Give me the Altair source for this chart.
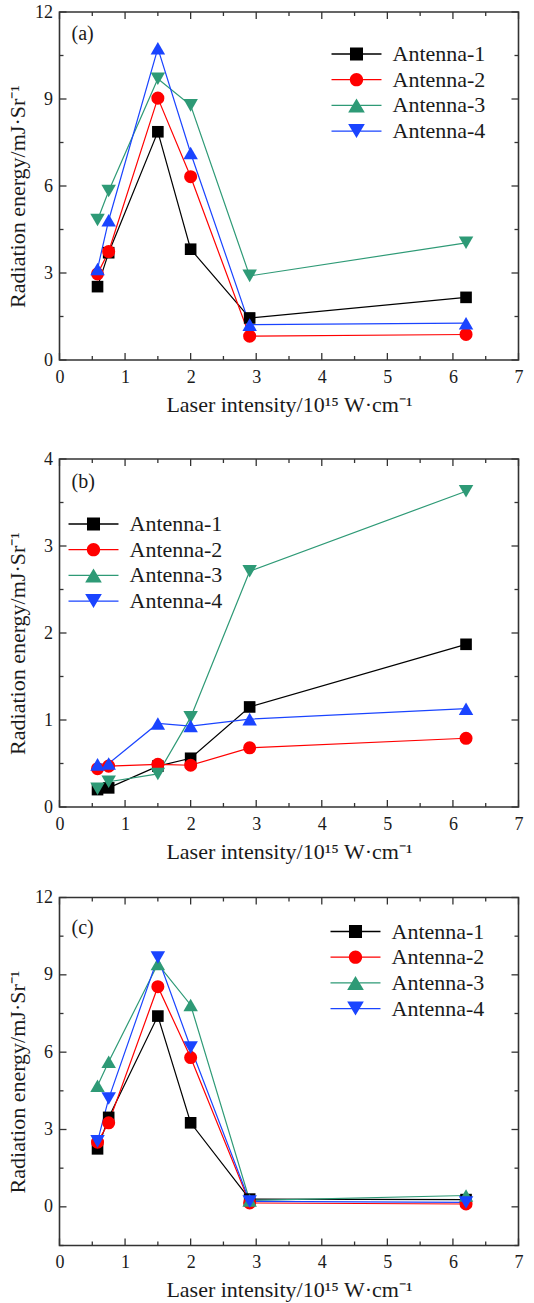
import altair as alt
import pandas as pd

FONT = "Liberation Serif"
TXT = "#1a1a1a"
FRAME = "#333333"

X = [0.58, 0.75, 1.5, 2.0, 2.9, 6.2]
SERIES = ["Antenna-1", "Antenna-2", "Antenna-3", "Antenna-4"]
COLORS = ["#000000", "#ff0000", "#2e9a76", "#1a44ff"]

# panel (a)
A_1 = [2.53, 3.70, 7.87, 3.82, 1.45, 2.16]
A_2 = [2.97, 3.74, 9.03, 6.32, 0.82, 0.88]
A_3 = [4.83, 5.83, 9.70, 8.78, 2.90, 4.04]
A_4 = [3.14, 4.82, 10.75, 7.14, 1.22, 1.27]
# panel (b)
B_1 = [0.20, 0.22, 0.47, 0.56, 1.15, 1.87]
B_2 = [0.44, 0.47, 0.49, 0.48, 0.68, 0.79]
B_3 = [0.21, 0.29, 0.38, 1.03, 2.71, 3.63]
B_4 = [0.49, 0.50, 0.96, 0.93, 1.01, 1.13]
# panel (c)
C_1 = [2.25, 3.47, 7.40, 3.26, 0.30, 0.28]
C_2 = [2.51, 3.26, 8.54, 5.79, 0.15, 0.11]
C_3 = [4.70, 5.63, 9.42, 7.83, 0.25, 0.44]
C_4 = [2.54, 4.20, 9.67, 6.18, 0.21, 0.17]

XMAJ = [0, 1, 2, 3, 4, 5, 6, 7]
XMIN = [0.5, 1.5, 2.5, 3.5, 4.5, 5.5, 6.5]
YMAJ_A = [0, 3, 6, 9, 12]
YMIN_A = [1.5, 4.5, 7.5, 10.5]
YMAJ_B = [0, 1, 2, 3, 4]
YMIN_B = [0.5, 1.5, 2.5, 3.5]
YMAJ_C = [0, 3, 6, 9, 12]
YMIN_C = [-1.5, 1.5, 4.5, 7.5, 10.5]

XTITLE = "Laser intensity/10\u00b9\u2075 W\u00b7cm\u207b\u00b9"
YTITLE = "Radiation energy/mJ\u00b7Sr\u207b\u00b9"

# legend symbols: line sample + marker (units of 7 px)
LINE = "M-3.57,-0.09H3.57V0.09H-3.57Z"
LEG_PATHS = [
    LINE + "M-0.93,-0.93H0.93V0.93H-0.93Z",
    LINE + "M-0.95,0A0.95,0.95 0 1,1 0.95,0A0.95,0.95 0 1,1 -0.95,0Z",
    LINE + "M0,-1.0L1.19,1.0L-1.19,1.0Z",
    LINE + "M0,1.0L-1.19,-1.0L1.19,-1.0Z",
]
SIZES = {"square": 135, "circle": 170, "triangle-up": 210, "triangle-down": 210}

W, H = 459, 348
MAJ_L, MIN_L = 7, 4


def panel(vals, ydom, ymaj, ymin, shapes, tag, lx, ly, tx, ty):
    rows = []
    for s, ys in zip(SERIES, vals):
        for xv, yv in zip(X, ys):
            rows.append({"x": xv, "y": yv, "series": s})
    df = pd.DataFrame(rows)
    xs = alt.Scale(domain=[0, 7], nice=False, zero=False)
    ysc = alt.Scale(domain=ydom, nice=False, zero=False)
    xax = alt.Axis(values=XMAJ, format="d", grid=False, ticks=False, tickSize=0,
                   domain=False, labelFont=FONT, labelFontSize=18, labelColor=TXT,
                   labelPadding=8, labelFlush=False, title=XTITLE, titleFont=FONT,
                   titleFontSize=22, titleFontWeight="normal", titleColor=TXT,
                   titleY=51, titleBaseline="alphabetic")
    yax = alt.Axis(values=ymaj, format="d", grid=False, ticks=False, tickSize=0,
                   domain=False, labelFont=FONT, labelFontSize=18, labelColor=TXT,
                   labelPadding=7, labelFlush=False, title=YTITLE, titleFont=FONT,
                   titleFontSize=22, titleFontWeight="normal", titleColor=TXT,
                   titleAngle=270, titleX=-35, titleY=H / 2 + 10,
                   titleAlign="center", titleBaseline="alphabetic")
    cs = alt.Scale(domain=SERIES, range=COLORS)
    leg = alt.Legend(orient="none", legendX=lx, legendY=ly, title=None,
                     labelFont=FONT, labelFontSize=22, labelColor=TXT,
                     symbolSize=196, symbolStrokeWidth=0, labelOffset=25,
                     rowPadding=3.7, padding=0)
    enc_x = alt.X("x:Q", scale=xs, axis=xax, title=XTITLE)
    enc_y = alt.Y("y:Q", scale=ysc, axis=yax, title=YTITLE)
    enc_c = alt.Color("series:N", scale=cs, legend=leg)
    base = alt.Chart(df)
    lines = base.mark_line(strokeWidth=1.2).encode(x=enc_x, y=enc_y, color=enc_c)
    pts = []
    for s, shp in zip(SERIES, shapes):
        pts.append(base.transform_filter(alt.datum.series == s).mark_point(
            shape=shp, filled=True, size=SIZES[shp], opacity=1).encode(
            x=enc_x, y=enc_y, color=enc_c))
    legend_layer = base.transform_filter("datum.x < 0").mark_point(
        filled=True, opacity=1).encode(
        x=enc_x, y=enc_y, color=enc_c,
        shape=alt.Shape("series:N", scale=alt.Scale(domain=SERIES, range=LEG_PATHS), legend=leg))

    def xticks(v, L):
        d = alt.Data(values=[{"x": t} for t in v])
        b = alt.Chart(d).mark_rule(color=FRAME, strokeWidth=1.3).encode(
            x=enc_x, y=alt.value(H), y2=alt.value(H - L))
        t = alt.Chart(d).mark_rule(color=FRAME, strokeWidth=1.3).encode(
            x=enc_x, y=alt.value(0), y2=alt.value(L))
        return [b, t]

    def yticks(v, L):
        d = alt.Data(values=[{"y": t} for t in v])
        l = alt.Chart(d).mark_rule(color=FRAME, strokeWidth=1.3).encode(
            y=enc_y, x=alt.value(0), x2=alt.value(L))
        r = alt.Chart(d).mark_rule(color=FRAME, strokeWidth=1.3).encode(
            y=enc_y, x=alt.value(W - L), x2=alt.value(W))
        return [l, r]

    ticks = xticks(XMAJ, MAJ_L) + xticks(XMIN, MIN_L) + yticks(ymaj, MAJ_L) + yticks(ymin, MIN_L)
    label = alt.Chart(alt.Data(values=[{"t": tag}])).mark_text(
        align="left", baseline="middle", font=FONT, fontSize=20, color=TXT).encode(
        text="t:N", x=alt.value(tx), y=alt.value(ty))
    return alt.layer(lines, *pts, legend_layer, *ticks, label).properties(width=W, height=H)


pa = panel([A_1, A_2, A_3, A_4], [0, 12], YMAJ_A, YMIN_A,
           ["square", "circle", "triangle-down", "triangle-up"], "(a)", 286, 31, 12, 22)
pb = panel([B_1, B_2, B_3, B_4], [0, 4], YMAJ_B, YMIN_B,
           ["square", "circle", "triangle-down", "triangle-up"], "(b)", 23, 54, 12, 23)
pc = panel([C_1, C_2, C_3, C_4], [-1.5, 12], YMAJ_C, YMIN_C,
           ["square", "circle", "triangle-up", "triangle-down"], "(c)", 285, 23, 12, 30)

inner = alt.vconcat(pb, pc, spacing=24.5).resolve_scale(
    color="independent", shape="independent").resolve_legend(
    color="independent", shape="independent")
chart = alt.vconcat(pa, inner, spacing=33).resolve_scale(
    color="independent", shape="independent").resolve_legend(
    color="independent", shape="independent").properties(
    padding={"left": 5.5, "top": 2, "right": 0, "bottom": 0},
    background="white").configure_view(stroke=FRAME, strokeWidth=1.6)

chart.save("out.html", embed_options={"renderer": "svg", "actions": False})
